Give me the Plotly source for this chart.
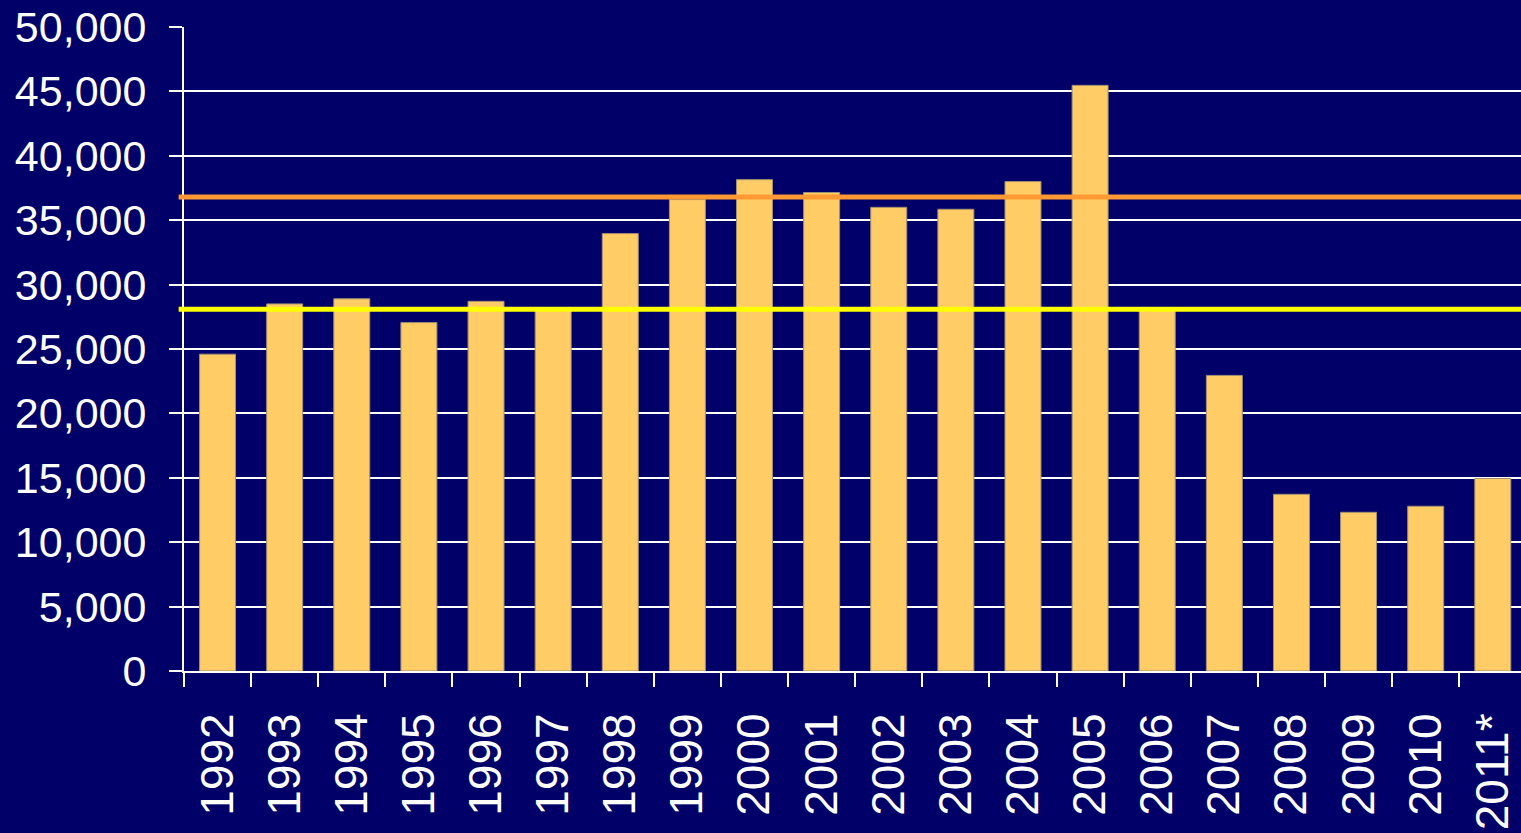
import plotly.graph_objects as go

years = ["1992", "1993", "1994", "1995", "1996", "1997", "1998", "1999", "2000", "2001",
         "2002", "2003", "2004", "2005", "2006", "2007", "2008", "2009", "2010", "2011*"]
values = [24600, 28500, 28900, 27050, 28700, 28150, 33960, 36600, 38150, 37150,
          36000, 35850, 38000, 45470, 28150, 22950, 13720, 12320, 12790, 14950]
orange_level = 36800
yellow_level = 28080
y_ticks = [0, 5000, 10000, 15000, 20000, 25000, 30000, 35000, 40000, 45000, 50000]

bg = "#000068"
font = "Liberation Sans, Arial, sans-serif"

fig = go.Figure()
fig.add_trace(go.Bar(
    x=years, y=values,
    marker=dict(color="#FFCC66", line=dict(color="#A09070", width=1)),
    hoverinfo="x+y",
))

for level, color in [(orange_level, "#FF9933"), (yellow_level, "#FFFF00")]:
    fig.add_shape(type="line", xref="paper", yref="y",
                  x0=-0.004, x1=1, y0=level, y1=level,
                  line=dict(color=color, width=5), layer="above")

fig.update_layout(
    width=1521, height=833,
    margin=dict(l=184, r=0, t=27, b=162),
    paper_bgcolor=bg, plot_bgcolor=bg,
    bargap=0.464,
    showlegend=False,
    font=dict(family=font, color="white"),
)
fig.update_xaxes(
    type="category",
    range=[-0.5, 19.42],
    tickangle=-90,
    tickfont=dict(size=46, color="white", family=font),
    showline=True, linecolor="white", linewidth=2,
    ticks="outside", tickcolor="white", ticklen=14, tickwidth=2,
    tickson="boundaries",
    ticklabelstandoff=22,
    showgrid=False,
)
fig.update_yaxes(
    range=[0, 50000],
    tickvals=y_ticks,
    ticktext=[f"{v:,}" for v in y_ticks],
    tickfont=dict(size=43, color="white", family=font),
    showline=True, linecolor="white", linewidth=2,
    ticks="outside", tickcolor="white", ticklen=13, tickwidth=2,
    ticklabelstandoff=14,
    showgrid=True, gridcolor="white", gridwidth=1.5,
    zeroline=False,
)

fig.write_html("out.html", config={"displayModeBar": False})
with open("out.html", "r", encoding="utf-8") as f:
    html = f.read()
html = html.replace("<head>", "<head><style>html,body{margin:0;padding:0;overflow:hidden;background:#000068;}</style>", 1)
with open("out.html", "w", encoding="utf-8") as f:
    f.write(html)
